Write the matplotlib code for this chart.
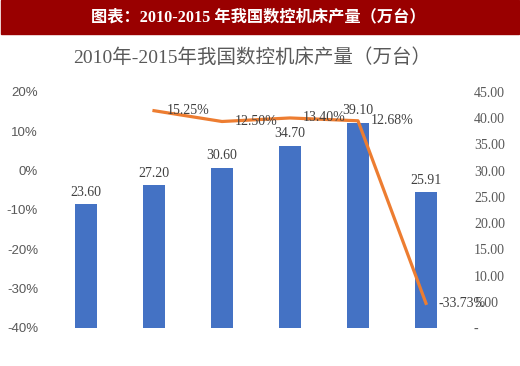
import numpy as np
import matplotlib.pyplot as plt
from matplotlib.ticker import FixedLocator

years = ['2010', '2011', '2012', '2013', '2014', '2015']
output = [23.60, 27.20, 30.60, 34.70, 39.10, 25.91]
growth = [None, 15.25, 12.50, 13.40, 12.68, -33.73]

left_ticks = [20, 10, 0, -10, -20, -30, -40]
right_ticks = [45, 40, 35, 30, 25, 20, 15, 10, 5, 0]

serif = ['Liberation Serif', 'Noto Sans CJK SC']
grey = '#595959'

fig = plt.figure(figsize=(5.2, 3.66), dpi=100)

# header banner
fig.patches.append(plt.Rectangle((0.002, 1 - 34 / 366), 0.996, 34 / 366,
                                 transform=fig.transFigure, color='#990000',
                                 zorder=0))
fig.text(0.497, 1 - 17 / 366, '图表：2010-2015 年我国数控机床产量（万台）',
         color='white', fontsize=11.7, fontweight='bold', family=serif,
         ha='center', va='center')
fig.text(0.485, 1 - 58 / 366, '2010年-2015年我国数控机床产量（万台）',
         color=grey, fontsize=14, family=serif, ha='center', va='center')

ax = fig.add_axes([52 / 520, 1 - 328 / 366, 408 / 520, 236 / 366])
ax2 = ax.twinx()

x = np.arange(len(years))

# bars on right axis
ax2.bar(x, output, width=0.33, color='#4472C4', zorder=2)
for xi, v in zip(x, output):
    ax2.annotate(f'{v:.2f}', (xi, v), xytext=(0, 4), textcoords='offset points',
                 ha='center', va='bottom', fontsize=10, color='#404040',
                 family=serif)
ax2.set_ylim(0, 45)
ax2.yaxis.set_major_locator(FixedLocator(right_ticks))
ax2.set_yticklabels(['-' if t == 0 else f'{t:.2f}' for t in right_ticks])

# growth line on left axis
gx = [xi for xi, g in zip(x, growth) if g is not None]
gy = [g for g in growth if g is not None]
ax.plot(gx, gy, color='#ED7D31', linewidth=2.3, zorder=5, clip_on=False)
for xi, g in zip(gx, gy):
    ax.annotate(f'{g:.2f}%', (xi, g), xytext=(9, 0), textcoords='offset points',
                ha='left', va='center', fontsize=10, color='#404040',
                family=serif, zorder=6)
ax.set_ylim(-40, 20)
ax.yaxis.set_major_locator(FixedLocator(left_ticks))
ax.set_yticklabels([f'{t}%' for t in left_ticks])

ax.set_zorder(ax2.get_zorder() + 1)
ax.patch.set_visible(False)
ax.set_xlim(-0.5, len(years) - 0.5)
ax.set_xticks([])

for a in (ax, ax2):
    for s in a.spines.values():
        s.set_visible(False)
    a.tick_params(axis='y', length=0, labelsize=10, labelcolor=grey)
for lab in ax.get_yticklabels():
    lab.set_family('Liberation Sans')
    lab.set_fontsize(9.5)
for lab in ax2.get_yticklabels():
    lab.set_family(serif)
ax.tick_params(axis='y', pad=10)
ax2.tick_params(axis='y', pad=10)

fig.savefig('out.png', dpi=100)
